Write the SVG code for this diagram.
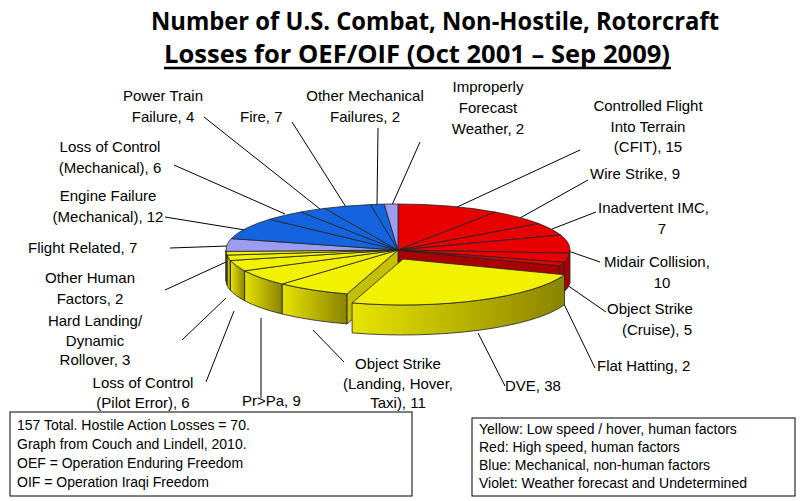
<svg xmlns="http://www.w3.org/2000/svg" width="806" height="501" viewBox="0 0 806 501">
<style>
.t{font-family:"Liberation Sans",Arial,sans-serif;font-size:15px;fill:#000}
.m{text-anchor:middle}
.b{font-family:"Liberation Sans",Arial,sans-serif;font-size:14px;fill:#000}
.ti{font-family:"Open Sans","Liberation Sans",sans-serif;font-weight:bold;font-size:25px;text-anchor:middle}
.s{stroke:#222;stroke-width:0.8}
.R{fill:#e80000}.Rs{fill:#a80000}
.Y{fill:#f2f200}.Ys{fill:#c4bf00}
.B{fill:#1464e0}.V{fill:#9c9cf0}.Vs{fill:#7070c0}
</style>
<defs>
<linearGradient id="yg" x1="0" x2="1" y1="0" y2="0"><stop offset="0" stop-color="#e8e400"/><stop offset="1" stop-color="#8a8400"/></linearGradient>
</defs>
<rect width="806" height="501" fill="#fff"/>
<text class="ti" x="435" y="30" textLength="568" lengthAdjust="spacingAndGlyphs">Number of U.S. Combat, Non-Hostile, Rotorcraft</text>
<text class="ti" x="417" y="63" textLength="506" lengthAdjust="spacingAndGlyphs">Losses for OEF/OIF (Oct 2001 – Sep 2009)</text>
<line x1="164" y1="68" x2="671" y2="68" stroke="#000" stroke-width="2.5"/>
<g id="connectors" stroke="#000" stroke-width="1" fill="none">
<line x1="204" y1="117" x2="320" y2="209"/>
<line x1="292" y1="122" x2="346" y2="207"/>
<line x1="378" y1="128" x2="377" y2="205"/>
<line x1="420" y1="142" x2="392" y2="205"/>
<line x1="580" y1="150" x2="455" y2="208"/>
<line x1="588" y1="180" x2="520" y2="218"/>
<line x1="596" y1="212" x2="552" y2="229"/>
<line x1="600" y1="262" x2="571" y2="252"/>
<line x1="606" y1="312" x2="567" y2="285"/>
<line x1="595" y1="368" x2="563" y2="302"/>
<line x1="505" y1="386" x2="478" y2="333"/>
<line x1="344" y1="362" x2="313" y2="330"/>
<line x1="261" y1="398" x2="261" y2="318"/>
<line x1="206" y1="382" x2="234" y2="311"/>
<line x1="182" y1="340" x2="226" y2="298"/>
<line x1="165" y1="290" x2="226" y2="262"/>
<line x1="170" y1="248" x2="228" y2="246"/>
<line x1="165" y1="217" x2="245" y2="230"/>
<line x1="174" y1="165" x2="285" y2="214"/>
</g>
<g id="pie-sides" class="s">
<path class="Rs" d="M569.6,253.2 A172,46 0 0 1 563.7,262.3 L563.7,292.3 A172,46 0 0 0 570,283 L570,250 Z"/>
<path class="Rs" d="M563.7,262.3 A172,46 0 0 1 559.5,265.8 L559.5,295.8 A172,46 0 0 0 563.7,292.3 Z"/>
<path class="Rs" d="M398,250 L559.5,265.8 L559.5,295.8 L398,280 Z"/>
<path fill="url(#yg)" d="M347.1,293.9 A172,46 0 0 1 282.1,284 L282.1,314 A172,46 0 0 0 347.1,323.9 Z"/>
<path fill="url(#yg)" d="M282.1,284 A172,46 0 0 1 244.6,270.8 L244.6,300.8 A172,46 0 0 0 282.1,314 Z"/>
<path fill="url(#yg)" d="M244.6,270.8 A172,46 0 0 1 230.5,260.5 L230.5,290.5 A172,46 0 0 0 244.6,300.8 Z"/>
<path fill="url(#yg)" d="M230.5,260.5 A172,46 0 0 1 227,255.1 L227,285.1 A172,46 0 0 0 230.5,290.5 Z"/>
<path fill="url(#yg)" d="M227,255.1 A172,46 0 0 1 226.1,251.4 L226.1,281.4 A172,46 0 0 0 227,285.1 Z"/>
<path class="Vs" d="M226.1,251.4 A172,46 0 0 1 226,250 L226,280 A172,46 0 0 0 226.1,281.4 Z"/>
<path class="Ys" d="M398,250 L347.1,293.9 L347.1,323.9 L398,280 Z"/>
</g>
<g id="pie-top" class="s">
<path class="R" d="M398,250 L398,204 A172,46 0 0 1 495.2,212.1 Z"/>
<path class="R" d="M398,250 L495.2,212.1 A172,46 0 0 1 538.9,223.6 Z"/>
<path class="R" d="M398,250 L538.9,223.6 A172,46 0 0 1 560.7,235 Z"/>
<path class="R" d="M398,250 L560.7,235 A172,46 0 0 1 569.6,253.2 Z"/>
<path class="R" d="M398,250 L569.6,253.2 A172,46 0 0 1 563.7,262.3 Z"/>
<path class="R" d="M398,250 L563.7,262.3 A172,46 0 0 1 559.5,265.8 Z"/>
<path class="Y" d="M398,250 L347.1,293.9 A172,46 0 0 1 282.1,284 Z"/>
<path class="Y" d="M398,250 L282.1,284 A172,46 0 0 1 244.6,270.8 Z"/>
<path class="Y" d="M398,250 L244.6,270.8 A172,46 0 0 1 230.5,260.5 Z"/>
<path class="Y" d="M398,250 L230.5,260.5 A172,46 0 0 1 227,255.1 Z"/>
<path class="Y" d="M398,250 L227,255.1 A172,46 0 0 1 226.1,251.4 Z"/>
<path class="V" d="M398,250 L226.1,251.4 A172,46 0 0 1 231.3,238.6 Z"/>
<path class="B" d="M398,250 L231.3,238.6 A172,46 0 0 1 269.7,219.3 Z"/>
<path class="B" d="M398,250 L269.7,219.3 A172,46 0 0 1 300.8,212 Z"/>
<path class="B" d="M398,250 L300.8,212 A172,46 0 0 1 324.5,208.4 Z"/>
<path class="B" d="M398,250 L324.5,208.4 A172,46 0 0 1 370.5,204.6 Z"/>
<path class="B" d="M398,250 L370.5,204.6 A172,46 0 0 1 384.2,204.1 Z"/>
<path class="V" d="M398,250 L384.2,204.1 A172,46 0 0 1 398,204 Z"/>
</g>
<g id="dve" class="s" transform="translate(5,9)">
<path fill="url(#yg)" d="M559.5,265.8 A172,46 0 0 1 347.1,293.9 L347.1,323.9 A172,46 0 0 0 559.5,295.8 Z"/>
<path class="Y" d="M398,250 L559.5,265.8 A172,46 0 0 1 347.1,293.9 Z"/>
</g>
<g id="labels">
<text class="t m" x="163" y="101">Power Train</text><text class="t m" x="163" y="122">Failure, 4</text>
<text class="t" x="240" y="122">Fire, 7</text>
<text class="t m" x="365" y="101">Other Mechanical</text><text class="t m" x="365" y="122">Failures, 2</text>
<text class="t m" x="488" y="92">Improperly</text><text class="t m" x="488" y="113">Forecast</text><text class="t m" x="488" y="134">Weather, 2</text>
<text class="t m" x="648" y="111">Controlled Flight</text><text class="t m" x="648" y="132">Into Terrain</text><text class="t m" x="648" y="152">(CFIT), 15</text>
<text class="t" x="590" y="179">Wire Strike, 9</text>
<text class="t" x="598" y="213">Inadvertent IMC,</text><text class="t m" x="662" y="234">7</text>
<text class="t" x="604" y="267">Midair Collision,</text><text class="t m" x="662" y="288">10</text>
<text class="t" x="607" y="314">Object Strike</text><text class="t m" x="657" y="335">(Cruise), 5</text>
<text class="t" x="597" y="371">Flat Hatting, 2</text>
<text class="t" x="505" y="391">DVE, 38</text>
<text class="t m" x="398" y="369">Object Strike</text><text class="t m" x="398" y="389">(Landing, Hover,</text><text class="t m" x="398" y="408">Taxi), 11</text>
<text class="t" x="242" y="406">Pr&gt;Pa, 9</text>
<text class="t m" x="143" y="388">Loss of Control</text><text class="t m" x="143" y="408">(Pilot Error), 6</text>
<text class="t m" x="95" y="326">Hard Landing/</text><text class="t m" x="95" y="346">Dynamic</text><text class="t m" x="95" y="365">Rollover, 3</text>
<text class="t m" x="90" y="283">Other Human</text><text class="t m" x="90" y="304">Factors, 2</text>
<text class="t" x="28" y="253">Flight Related, 7</text>
<text class="t m" x="108" y="201">Engine Failure</text><text class="t m" x="108" y="222">(Mechanical), 12</text>
<text class="t m" x="110" y="152">Loss of Control</text><text class="t m" x="110" y="173">(Mechanical), 6</text>
</g>
<g id="notes">
<rect x="10" y="412" width="402" height="84" fill="#fff" stroke="#000"/>
<text class="b" x="17" y="430">157 Total.  Hostile Action Losses = 70.</text>
<text class="b" x="17" y="449">Graph from Couch and Lindell, 2010.</text>
<text class="b" x="17" y="468">OEF = Operation Enduring Freedom</text>
<text class="b" x="17" y="487">OIF = Operation Iraqi Freedom</text>
<rect x="472" y="418" width="323" height="78" fill="#fff" stroke="#000"/>
<text class="b" x="479" y="434">Yellow: Low speed / hover, human factors</text>
<text class="b" x="479" y="452">Red: High speed, human factors</text>
<text class="b" x="479" y="470">Blue: Mechanical, non-human factors</text>
<text class="b" x="479" y="488">Violet: Weather forecast and Undetermined</text>
</g>
</svg>
